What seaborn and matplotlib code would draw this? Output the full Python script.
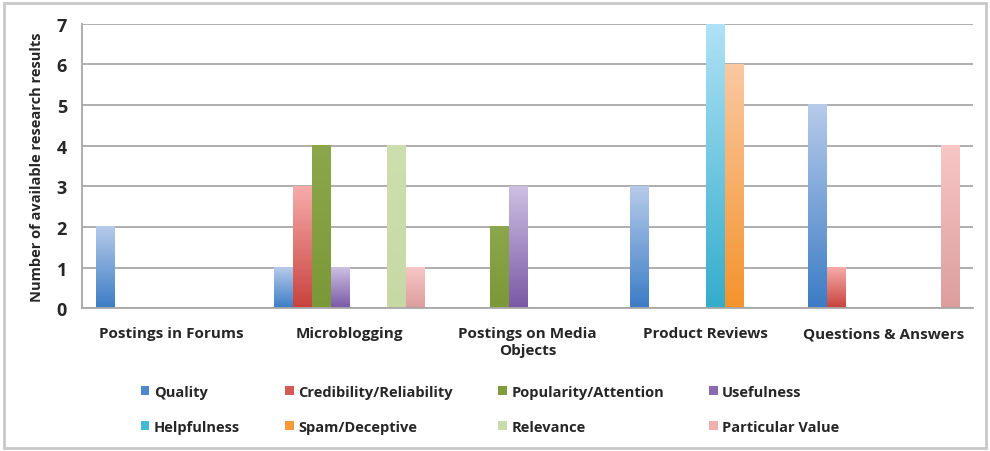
import numpy as np
import pandas as pd
import matplotlib.pyplot as plt
import seaborn as sns
from matplotlib.colors import LinearSegmentedColormap
from matplotlib.patches import Patch, Rectangle

# Data
categories = ["Postings in Forums", "Microblogging", "Postings on Media\nObjects",
              "Product Reviews", "Questions & Answers"]
series_names = ["Quality", "Credibility/Reliability", "Popularity/Attention", "Usefulness",
                "Helpfulness", "Spam/Deceptive", "Relevance", "Particular Value"]
quality = [2, 1, 0, 3, 5]
credibility = [0, 3, 0, 0, 1]
popularity = [0, 4, 2, 0, 0]
usefulness = [0, 1, 3, 0, 0]
helpfulness = [0, 0, 0, 7, 0]
spam = [0, 0, 0, 6, 0]
relevance = [0, 4, 0, 0, 0]
particular = [0, 1, 0, 0, 4]

values = [quality, credibility, popularity, usefulness,
          helpfulness, spam, relevance, particular]

rows = []
for name, vals in zip(series_names, values):
    for cat, v in zip(categories, vals):
        rows.append({"category": cat, "series": name, "count": v})
df = pd.DataFrame(rows)

# gradient colours, (top, bottom) like the Excel fill
grad_colors = [
    ("#b7cbea", "#3b7cc5"),
    ("#f6acaa", "#c8423d"),
    ("#8ca74b", "#7b9838"),
    ("#cdc0e2", "#7a58a6"),
    ("#b0e2f6", "#33adca"),
    ("#fac9a2", "#f4932b"),
    ("#cddfae", "#c6d9a5"),
    ("#f8c6c6", "#dd9d9d"),
]
mid_colors = ["#4f88cc", "#d35a55", "#809c3c", "#8a6ab0",
              "#45b8d3", "#f59a3a", "#c9dba8", "#f0b0b0"]

sns.set_style("white")
plt.rcParams['font.family'] = ['Open Sans', 'DejaVu Sans']

fig, ax = plt.subplots(figsize=(9.9, 4.52), dpi=100)
fig.subplots_adjust(left=0.083, right=0.983, top=0.945, bottom=0.316)

sns.barplot(data=df, x="category", y="count", hue="series", hue_order=series_names,
            order=categories, width=0.85, palette=mid_colors, legend=False,
            errorbar=None, ax=ax, zorder=2)

ax.set_xlim(-0.5, 4.5)
ax.set_ylim(0, 7)

# replace flat bars by vertical gradients
grad = np.linspace(0, 1, 256).reshape(-1, 1)
for cont, (top, bottom) in zip(ax.containers, grad_colors):
    cmap = LinearSegmentedColormap.from_list("g", [bottom, top])
    for bar in cont:
        h = bar.get_height()
        if h <= 0:
            bar.set_visible(False)
            continue
        x0 = bar.get_x()
        w = bar.get_width()
        ax.imshow(grad, extent=[x0, x0 + w, 0, h], aspect="auto", cmap=cmap,
                  origin="lower", zorder=2)
        bar.set_visible(False)
ax.set_xlim(-0.5, 4.5)
ax.set_ylim(0, 7)

ax.set_yticks(range(8))
ax.yaxis.grid(True, color="#a8a8a8", linewidth=1.3)
ax.set_axisbelow(True)
for s in ["top", "right"]:
    ax.spines[s].set_visible(False)
for s in ["left", "bottom"]:
    ax.spines[s].set_color("#a8a8a8")
    ax.spines[s].set_linewidth(1.3)

ax.set_xticks(range(len(categories)))
ax.set_xticklabels(categories, fontsize=11, fontweight="bold", linespacing=1.25)
ax.set_xticks(np.arange(-0.5, 5, 1), minor=True)
ax.tick_params(axis="x", which="major", length=0, pad=13)
ax.tick_params(axis="x", which="minor", length=5, color="#a8a8a8", width=1.2)
ax.tick_params(axis="y", length=5, color="#a8a8a8", width=1.2, labelsize=13, pad=6)
for lbl in ax.get_yticklabels():
    lbl.set_fontweight("bold")

ax.set_xlabel("")
ax.set_ylabel("Number of available research results", fontsize=10.5, fontweight="bold",
              labelpad=9)

# legend fills column by column, so reorder to read row by row
order = [0, 4, 1, 5, 2, 6, 3, 7]
handles = [Patch(facecolor=mid_colors[i], edgecolor="none") for i in order]
labels = [series_names[i] for i in order]
fig.legend(handles, labels, loc="center", bbox_to_anchor=(0.495, 0.092),
           ncol=4, frameon=False, handlelength=0.6, handleheight=0.6,
           handletextpad=0.3, columnspacing=3.1, labelspacing=1.45,
           prop={"size": 10.5, "weight": "bold"})

fig.patches.append(Rectangle((0.004, 0.006), 0.992, 0.985, transform=fig.transFigure,
                             fill=False, edgecolor="#c8c8c8", linewidth=2))

fig.savefig("out.png", dpi=100)
